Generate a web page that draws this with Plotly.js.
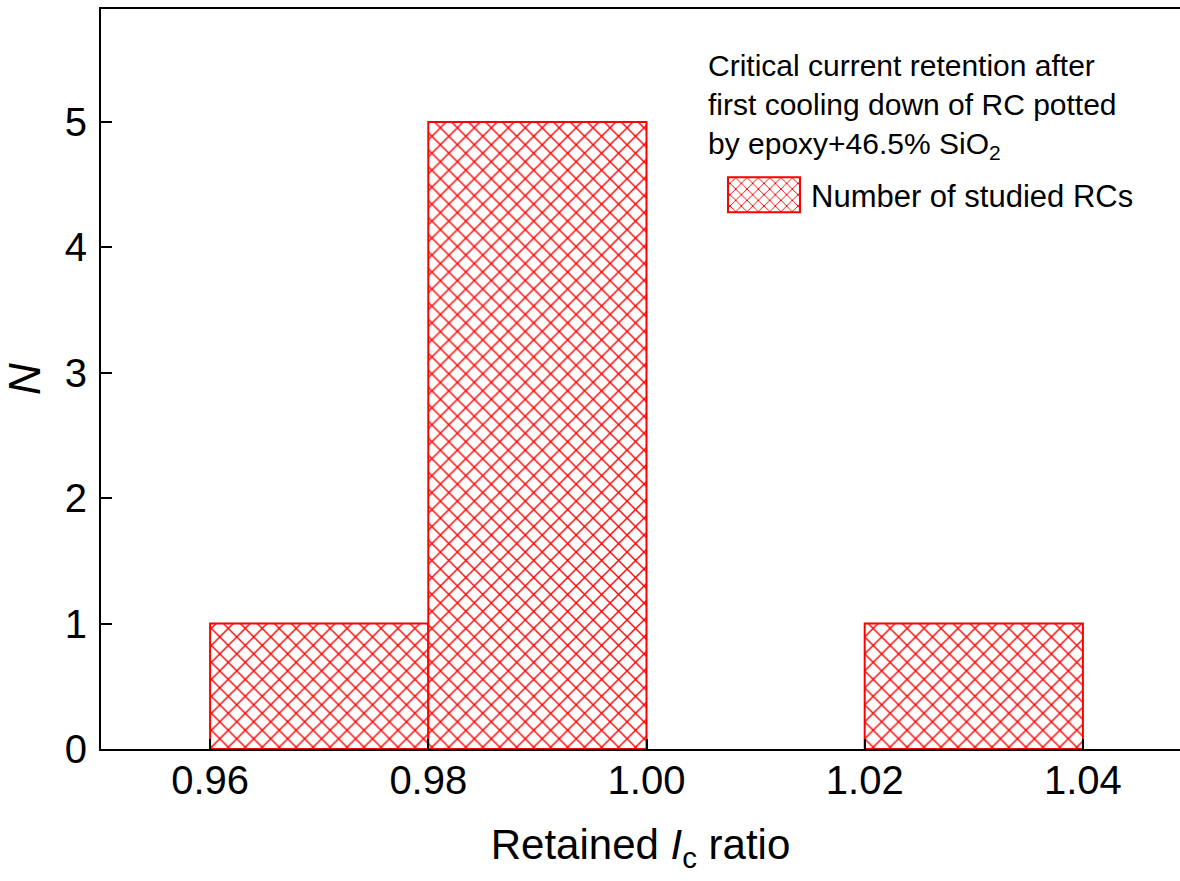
<!DOCTYPE html>
<html>
<head>
<meta charset="utf-8">
<script src="https://cdn.plot.ly/plotly-3.0.1.min.js"></script>
<style>html,body{margin:0;padding:0;overflow:hidden;background:#fff;}</style>
</head>
<body>
<div id="chart" style="width:1180px;height:881px;"></div>
<script>
const binCenters = [0.97, 0.99, 1.01, 1.03];
const counts = [1, 5, 0, 1];
const xTickVals = [0.96, 0.98, 1.00, 1.02, 1.04];
const xTickText = ["0.96", "0.98", "1.00", "1.02", "1.04"];
const yTickVals = [0, 1, 2, 3, 4, 5];
const seriesName = "Number of studied RCs";
const legendTitle = "Critical current retention after<br>first cooling down of RC potted<br>by epoxy+46.5% SiO<sub>2</sub>";

const fam = '"Liberation Sans", Arial, sans-serif';

const trace = {
  type: 'bar',
  x: binCenters,
  y: counts,
  width: 0.02,
  name: seriesName,
  showlegend: true,
  marker: {
    color: 'white',
    line: {color: '#ff0000', width: counts.map(c => c > 0 ? 2 : 0)},
    pattern: {shape: 'x', fgcolor: '#ff0000', bgcolor: 'white', fgopacity: 1, size: 12, solidity: 0.22, fillmode: 'replace'}
  }
};

const layout = {
  width: 1180,
  height: 881,
  margin: {l: 101, r: 0, t: 9, b: 132, pad: 0},
  paper_bgcolor: 'white',
  plot_bgcolor: 'white',
  font: {family: fam, color: '#000'},
  bargap: 0,
  showlegend: true,
  xaxis: {
    range: [0.95, 1.0489],
    tickvals: xTickVals,
    ticktext: xTickText,
    ticks: 'inside',
    ticklen: 10,
    tickwidth: 2,
    tickcolor: '#000',
    showline: true,
    linecolor: '#000',
    linewidth: 2,
    mirror: true,
    showgrid: false,
    zeroline: false,
    tickfont: {size: 40, family: fam, color: '#000'},
    ticklabelstandoff: -5,
    title: {text: 'Retained <i>I</i><sub>c</sub> ratio', font: {size: 42, family: fam, color: '#000'}, standoff: 29}
  },
  yaxis: {
    range: [0, 5.9],
    tickvals: yTickVals,
    ticks: 'inside',
    ticklen: 11,
    tickwidth: 2,
    tickcolor: '#000',
    showline: true,
    linecolor: '#000',
    linewidth: 2,
    mirror: false,
    showgrid: false,
    zeroline: false,
    tickfont: {size: 40, family: fam, color: '#000'},
    ticklabelstandoff: 4,
    title: {text: '<i>N</i>', font: {size: 44, family: fam, color: '#000'}, standoff: 12}
  },
  annotations: [{
    text: legendTitle,
    xref: 'paper', yref: 'paper',
    x: 0.5607, y: 0.9493,
    xanchor: 'left', yanchor: 'top',
    align: 'left',
    showarrow: false,
    font: {size: 30, family: fam, color: '#000'}
  }],
  legend: {
    x: 0.5709,
    y: 0.7486,
    xanchor: 'left',
    yanchor: 'middle',
    bgcolor: 'rgba(0,0,0,0)',
    borderwidth: 0,
    font: {size: 31, family: fam, color: '#000'},
    itemwidth: 84
  }
};

Plotly.newPlot('chart', [trace], layout, {displayModeBar: false, staticPlot: true}).then(function (gd) {
  gd.querySelectorAll('.legend .legendpoints path').forEach(function (p) {
    p.setAttribute('d', 'M36,17.5H-36V-17.5H36Z');
    p.style.strokeWidth = '2px';
  });
});
</script>
</body>
</html>
